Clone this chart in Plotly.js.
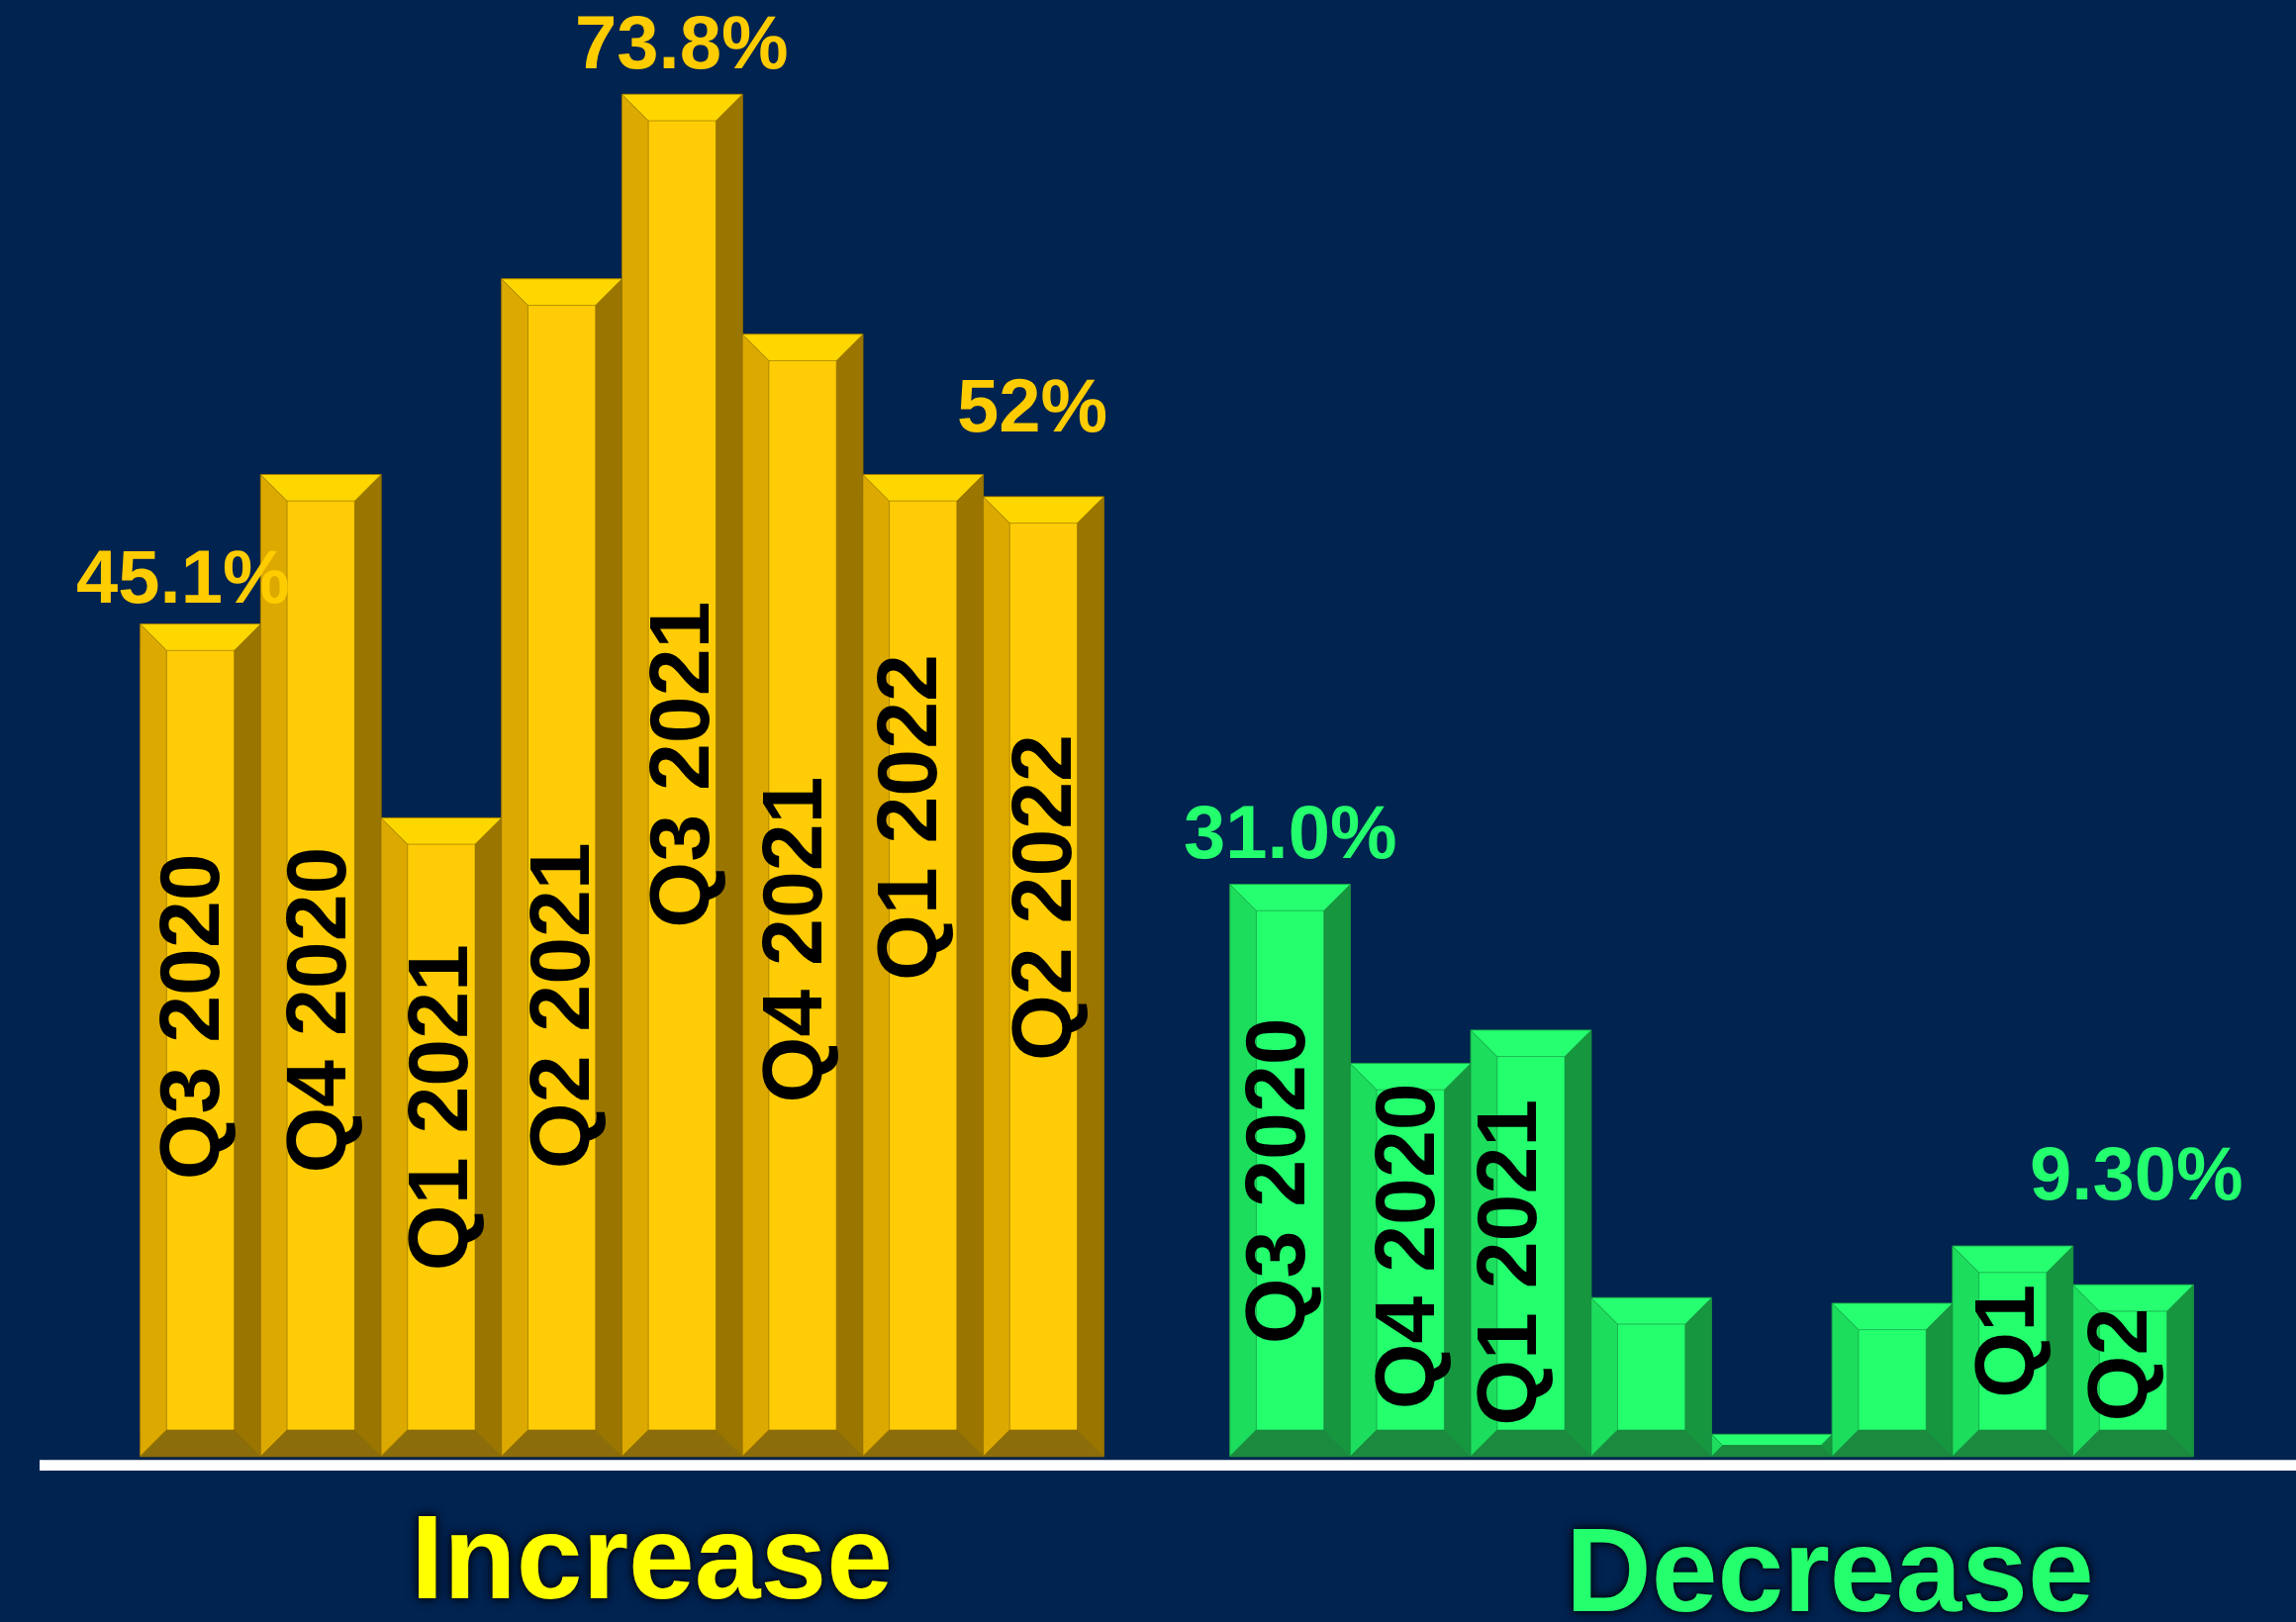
<!DOCTYPE html>
<html>
<head>
<meta charset="utf-8">
<script src="https://cdn.plot.ly/plotly-3.0.1.min.js"></script>
<style>
html,body{margin:0;padding:0;background:#002350;}
#chart{width:2320px;height:1639px;}
</style>
</head>
<body>
<div id="chart"></div>
<script>
// ---------- DATA ----------
const increaseQuarters = ['Q3 2020','Q4 2020','Q1 2021','Q2 2021','Q3 2021','Q4 2021','Q1 2022','Q2 2022'];
const increaseValues   = [45.1, 53.2, 34.6, 63.8, 73.8, 60.8, 53.2, 52.0];
const increaseLabels   = ['Q3 2020','Q4 2020','Q1 2021','Q2 2021','Q3 2021','Q4 2021','Q1 2022','Q2 2022'];

const decreaseQuarters = ['Q3 2020','Q4 2020','Q1 2021','Q2 2021','Q3 2021','Q4 2021','Q1 2022','Q2 2022'];
const decreaseValues   = [31.0, 21.3, 23.1, 8.6, 1.2, 8.3, 11.4, 9.3];
const decreaseLabels   = ['Q3 2020','Q4 2020','Q1 2021','','','','Q1','Q2'];

// value callouts: [index, text]
const increaseCallouts = [[0,'45.1%'],[4,'73.8%'],[7,'52%']];
const decreaseCallouts = [[0,'31.0%'],[7,'9.30%']];

const groupTitles = ['Increase','Decrease'];

// ---------- LAYOUT / STYLE ----------
const W = 2320, H = 1639;
const xRange = [-1.664, 17.399];
const yRange = [-8.97, 78.91];
const pxPerX = W / (xRange[1]-xRange[0]);
const pxPerY = H / (yRange[1]-yRange[0]);
const groupGap = 1.047;              // empty slot between the two groups (x units)
const bevelPx = 26.7;
const font = 'Liberation Sans, Arial, sans-serif';

const styles = {
  inc: {face:'#FFCC05', left:'#DCA900', right:'#9A7600', top:'#FFD700', bottom:'#8C6D0C', edge:'#8A6A00', text:'#FFCC00'},
  dec: {face:'#24FF6E', left:'#1CDD5C', right:'#16963E', top:'#26FF70', bottom:'#1B8A3E', edge:'#178A40', text:'#24FF6E'}
};

// label placement (layout, not data): mid position of rotated label (y units) and x pixel nudge
const incLabelMid   = [23.8, 24.2, 18.9, 24.4, 37.5, 28.0, 34.6, 30.3];
const incLabelShift = [-12, -5, -4, -3, -3, -11, -16, -3];
const decLabelMid   = [14.9, 11.4, 10.5, null, null, null, 6.26, 4.97];
const decLabelShift = [-16, -6, -25, 0, 0, 0, -9, -16];
const incCalloutShift = {0:[-18,48], 4:[0,53], 7:[-11,92]};
const decCalloutShift = {0:[0,53], 7:[4,113]};

const incX = increaseValues.map((v,i)=>i);
const decX = decreaseValues.map((v,i)=>increaseValues.length + groupGap + i);

// ---------- TRACES ----------
function barTrace(xs, ys, names, st){
  return {
    type:'bar', x:xs, y:ys, width:1, customdata:names,
    marker:{color:st.face, line:{color:st.edge, width:1}},
    hoverinfo:'skip', showlegend:false
  };
}
const data = [
  barTrace(incX, increaseValues, increaseQuarters, styles.inc),
  barTrace(decX, decreaseValues, decreaseQuarters, styles.dec)
];

// ---------- BEVEL SHAPES ----------
const shapes = [];
function poly(pts, color, edge){
  const d = 'M' + pts.map(p=>p[0]+','+p[1]).join(' L') + ' Z';
  shapes.push({type:'path', xref:'x', yref:'y', path:d, fillcolor:color,
               line:{color:edge, width:0.6}, layer:'above'});
}
function bevels(xs, ys, st){
  xs.forEach((c,i)=>{
    const v = ys[i];
    const bPx = Math.min(bevelPx, v*pxPerY/2);
    const by = bPx/pxPerY, bx = bPx/pxPerX;
    const l = c-0.5, r = c+0.5;
    poly([[l,0],[l+bx,by],[l+bx,v-by],[l,v]], st.left, st.edge);
    poly([[r,0],[r-bx,by],[r-bx,v-by],[r,v]], st.right, st.edge);
    poly([[l,v],[r,v],[r-bx,v-by],[l+bx,v-by]], st.top, st.edge);
    poly([[l,0],[r,0],[r-bx,by],[l+bx,by]], st.bottom, st.edge);
  });
}
bevels(incX, increaseValues, styles.inc);
bevels(decX, decreaseValues, styles.dec);

// baseline white bar
shapes.push({type:'rect', xref:'paper', yref:'y', x0:40/W, x1:1, y0:-0.19, y1:-0.77,
             fillcolor:'#FFFFFF', line:{width:0}, layer:'above'});

// ---------- ANNOTATIONS ----------
const annotations = [];
function quarterLabels(xs, labels, mids, shifts){
  xs.forEach((c,i)=>{
    if(!labels[i]) return;
    annotations.push({x:c, y:mids[i], xref:'x', yref:'y', text:'<b>'+labels[i]+'</b>',
      textangle:-90, showarrow:false, xanchor:'center', yanchor:'middle', xshift:shifts[i],
      font:{family:font, size:86, color:'#000000'}});
  });
}
quarterLabels(incX, increaseLabels, incLabelMid, incLabelShift);
quarterLabels(decX, decreaseLabels, decLabelMid, decLabelShift);

function callouts(list, xs, ys, shiftMap, color){
  list.forEach(([i,txt])=>{
    const s = shiftMap[i];
    annotations.push({x:xs[i], y:ys[i], xref:'x', yref:'y', text:'<b>'+txt+'</b>',
      showarrow:false, xanchor:'center', yanchor:'middle', xshift:s[0], yshift:s[1],
      font:{family:font, size:76, color:color}});
  });
}
callouts(increaseCallouts, incX, increaseValues, incCalloutShift, styles.inc.text);
callouts(decreaseCallouts, decX, decreaseValues, decCalloutShift, styles.dec.text);

const titleShadow = '0px 0px 12px #000814, 0px 0px 6px #000814';
annotations.push({x:658/W, y:1-1573/H, xref:'paper', yref:'paper', text:'<b>'+groupTitles[0]+'</b>',
  showarrow:false, xanchor:'center', yanchor:'middle',
  font:{family:font, size:120, color:'#FFFF00', shadow:titleShadow}});
annotations.push({x:1849/W, y:1-1586/H, xref:'paper', yref:'paper', text:'<b>'+groupTitles[1]+'</b>',
  showarrow:false, xanchor:'center', yanchor:'middle',
  font:{family:font, size:120, color:'#24FF6E', shadow:titleShadow}});

const layout = {
  width:W, height:H,
  margin:{l:0, r:0, t:0, b:0, pad:0},
  paper_bgcolor:'#002350', plot_bgcolor:'#002350',
  barmode:'overlay', bargap:0,
  xaxis:{range:xRange, visible:false, fixedrange:true},
  yaxis:{range:yRange, visible:false, fixedrange:true},
  shapes:shapes, annotations:annotations,
  showlegend:false
};
Plotly.newPlot('chart', data, layout, {staticPlot:true, displayModeBar:false});
</script>
</body>
</html>
